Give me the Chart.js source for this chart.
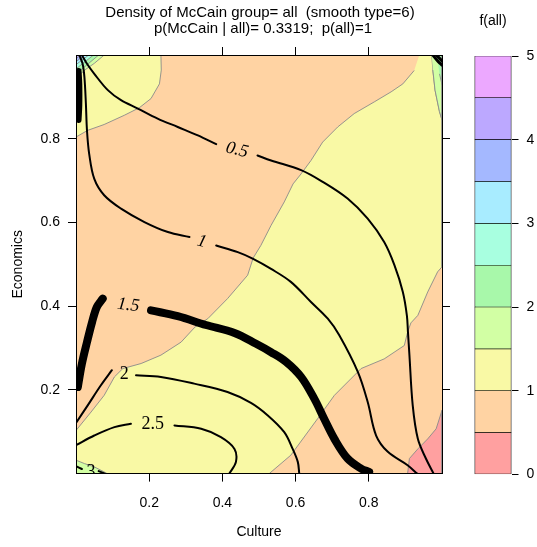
<!DOCTYPE html>
<html><head><meta charset="utf-8">
<script src="https://cdn.jsdelivr.net/npm/chart.js@4.4.1/dist/chart.umd.min.js"></script>
<style>
html,body{margin:0;padding:0;background:#fff;}
#wrap{position:relative;width:537px;height:547px;font-family:"Liberation Sans",Arial,sans-serif;overflow:hidden;}
#main{position:absolute;left:0;top:0;width:537px;height:547px;}
#key{position:absolute;left:470px;top:0;width:67px;height:547px;}
.t{position:absolute;white-space:pre;font-size:15px;line-height:16px;color:#000;transform:translateX(-50%);}
</style></head><body>
<div id="wrap">
<div id="main"><canvas id="c1"></canvas></div>
<div id="key"><canvas id="c2"></canvas></div>
<div class="t" style="left:260px;top:4px">Density of McCain group= all  (smooth type=6)</div>
<div class="t" style="left:263px;top:20px">p(McCain | all)= 0.3319;  p(all)=1</div>
<div class="t" style="left:493px;top:12px;font-size:14px">f(all)</div>
</div>
<script>
// ---------- data ----------
const xTickValues = [0.2, 0.4, 0.6, 0.8];
const yTickValues = [0.2, 0.4, 0.6, 0.8];
const keyTickValues = [0, 1, 2, 3, 4, 5];
const keyLevels = [0, 0.5, 1, 1.5, 2, 2.5, 3, 3.5, 4, 4.5, 5];
const levelColors = ['#FFA0A0','#FFD3A3','#F9F9A5','#D2FFA4','#A8F8AA','#A8FFE0','#A8ECFF','#A4B8FF','#BCA8FF','#ECA8FF'];

// f(all) filled regions (boundary points in data units)
const regionAll = [[0,0],[1,0],[1,1],[0,1]];
const regionYellowTopLeft = [[0,1],[0.232,1],[0.233,0.964],[0.228,0.931],[0.205,0.896],[0.173,0.874],[0.132,0.856],[0.077,0.834],[0.032,0.820],[0,0.804]];
const regionYellowMain = [[0.938,1],[0.972,1],[0.975,0.964],[0.981,0.916],[0.993,0.865],[1,0.845],[1,0.494],[0.988,0.482],[0.961,0.434],[0.934,0.378],[0.915,0.36],[0.906,0.338],[0.897,0.306],[0.842,0.274],[0.779,0.251],[0.706,0.187],[0.660,0.131],[0.587,0.044],[0.528,0],[0,0],[0,0.103],[0.041,0.147],[0.077,0.187],[0.105,0.231],[0.128,0.251],[0.178,0.263],[0.232,0.283],[0.287,0.314],[0.325,0.350],[0.360,0.370],[0.414,0.418],[0.469,0.474],[0.484,0.515],[0.505,0.545],[0.533,0.593],[0.569,0.649],[0.593,0.692],[0.615,0.716],[0.642,0.748],[0.674,0.792],[0.715,0.828],[0.760,0.860],[0.815,0.888],[0.861,0.912],[0.893,0.931],[0.924,0.963]];
const regionGreenTopRight = [[0.972,1],[1,1],[1,0.845],[0.993,0.865],[0.981,0.916],[0.975,0.964]];
const regionGreen2TopRight = [[0.986,1],[1,1],[1,0.93],[0.993,0.955]];
const regionPinkBottomRight = [[0.906,0],[0.911,0.036],[0.934,0.059],[0.961,0.083],[0.984,0.107],[1,0.151],[1,0]];
const regionGreenBottomLeft = [[0,0],[0,0.032],[0.023,0.024],[0.050,0.016],[0.077,0.004],[0.085,0]];
const regionCornerTL1 = [[0,1],[0.077,1],[0.050,0.980],[0.027,0.966],[0.014,0.956],[0,0.948]];
const regionCornerTL2 = [[0,1],[0.062,1],[0.010,0.962],[0,0.957]];
const regionCornerTL3 = [[0,1],[0.048,1],[0.006,0.971],[0,0.968]];
const regionCornerTL4 = [[0,1],[0.035,1],[0,0.977]];
const regionCornerTL5 = [[0,1],[0.024,1],[0,0.984]];
const regionCornerTL6 = [[0,1],[0.013,1],[0,0.991]];

// McCain density contour lines
const line05a = [[0.016,1],[0.030,0.979],[0.050,0.955],[0.087,0.916],[0.123,0.892],[0.169,0.872],[0.223,0.848],[0.278,0.828],[0.333,0.808],[0.383,0.787]];
const line05b = [[0.496,0.760],[0.533,0.748],[0.615,0.725],[0.674,0.697],[0.742,0.657],[0.797,0.609],[0.842,0.553],[0.870,0.498],[0.893,0.434],[0.904,0.378],[0.907,0.338],[0.911,0.283],[0.920,0.163],[0.934,0.083],[0.956,0.036],[0.977,0]];
const line1a = [[0.009,1],[0.018,0.979],[0.023,0.947],[0.027,0.884],[0.030,0.820],[0.036,0.764],[0.050,0.704],[0.077,0.665],[0.123,0.633],[0.187,0.601],[0.251,0.577],[0.310,0.565]];
const line1b = [[0.383,0.545],[0.442,0.529],[0.484,0.513],[0.533,0.489],[0.587,0.458],[0.642,0.410],[0.688,0.370],[0.719,0.331],[0.770,0.243],[0.797,0.171],[0.820,0.091],[0.852,0.052],[0.906,0.020],[0.932,0]];
const line15a = [[0.073,0.418],[0.057,0.398],[0.044,0.362],[0.030,0.314],[0.016,0.262],[0.005,0.207]];
const line15b = [[0.205,0.390],[0.278,0.376],[0.355,0.355],[0.433,0.336],[0.492,0.310],[0.533,0.290],[0.574,0.267],[0.615,0.231],[0.651,0.179],[0.678,0.131],[0.706,0.083],[0.742,0.036],[0.779,0.012],[0.801,0.004]];
const line15c = [[0.007,0.962],[0.009,0.93],[0.009,0.88],[0.007,0.845]];
const line2a = [[0.098,0.247],[0.068,0.211],[0.032,0.163],[0,0.121]];
const line2b = [[0.164,0.235],[0.232,0.231],[0.323,0.215],[0.414,0.195],[0.478,0.169],[0.524,0.139],[0.569,0.099],[0.592,0.059],[0.606,0.028],[0.610,0]];
const line25a = [[0,0.068],[0.050,0.091],[0.105,0.111],[0.150,0.119]];
const line25b = [[0.269,0.115],[0.342,0.107],[0.396,0.087],[0.433,0.059],[0.437,0.028],[0.419,0]];
const line3a = [[0,0.018],[0.016,0.011]];
const line3b = [[0.062,0.006],[0.079,0]];
const lineCornerTR1 = [[0.975,1],[0.990,0.984],[1,0.976]];
const lineCornerTR2 = [[0.984,1],[1,0.986]];

const contourLabelText = ['0.5', '1', '1.5', '2', '2.5', '3'];
const contourLabelX = [0.440, 0.344, 0.143, 0.132, 0.210, 0.041];
const contourLabelY = [0.773, 0.554, 0.402, 0.237, 0.117, 0.004];

// ---------- build ----------
const FAM = '"Liberation Sans", Arial, sans-serif';
const pts = a => a.map(p => ({x: p[0], y: p[1]}));
function region(a, level, order, edge) {
  return {data: pts(a), backgroundColor: levelColors[level], borderColor: '#8a8a8a',
    borderWidth: edge === false ? 0 : 0.9, fill: 'shape', pointRadius: 0, tension: 0, order: order, clip: 0};
}
function cline(a, w) {
  return {data: pts(a), borderColor: '#000', borderWidth: w, fill: false, pointRadius: 0,
    tension: 0.35, order: 1, clip: 0, borderCapStyle: 'round', borderJoinStyle: 'round'};
}
const datasets = [
  cline(line05a, 2), cline(line05b, 2), cline(line1a, 2), cline(line1b, 2),
  cline(line15a, 8), cline(line15b, 8), cline(line15c, 6),
  cline(line2a, 2), cline(line2b, 2), cline(line25a, 2), cline(line25b, 2),
  cline(line3a, 2), cline(line3b, 2), cline(lineCornerTR1, 3), cline(lineCornerTR2, 3),
  region(regionCornerTL6, 8, 20), region(regionCornerTL5, 7, 21), region(regionCornerTL4, 6, 22),
  region(regionCornerTL3, 5, 23), region(regionCornerTL2, 4, 24), region(regionCornerTL1, 3, 25),
  region(regionGreen2TopRight, 4, 26), region(regionGreenTopRight, 3, 27),
  region(regionGreenBottomLeft, 3, 28), region(regionPinkBottomRight, 0, 29),
  region(regionYellowMain, 2, 30), region(regionYellowTopLeft, 2, 31),
  region(regionAll, 1, 40, false)
];

const labelStyle = {
  angle: [14, 15, 6, 0, 0, 0],
  italic: [true, true, true, false, false, false]
};
const contourLabels = {
  id: 'contourLabels',
  afterDatasetsDraw(chart) {
    const {ctx, chartArea: a, scales: {x, y}} = chart;
    ctx.save();
    ctx.beginPath(); ctx.rect(a.left, a.top, a.right - a.left, a.bottom - a.top); ctx.clip();
    ctx.fillStyle = '#000'; ctx.textAlign = 'center'; ctx.textBaseline = 'middle';
    contourLabelText.forEach((t, i) => {
      const px = x.getPixelForValue(contourLabelX[i]), py = y.getPixelForValue(contourLabelY[i]);
      ctx.save();
      ctx.translate(px, py); ctx.rotate(labelStyle.angle[i] * Math.PI / 180);
      ctx.font = (labelStyle.italic[i] ? 'italic ' : '') + '18px "Liberation Serif", "DejaVu Serif", serif';
      ctx.fillText(t, 0, 0);
      ctx.restore();
    });
    ctx.restore();
  }
};

const tickFont = {family: FAM, size: 14};
function setTicks(vals) { return s => { s.ticks = vals.map(v => ({value: v})); }; }
const gridOpt = {drawOnChartArea: false, drawTicks: true, tickLength: 8, color: '#000', lineWidth: 1};
const borderOpt = {display: true, color: '#000', width: 1, z: 1};

new Chart(document.getElementById('c1'), {
  type: 'line',
  data: {datasets},
  options: {
    responsive: true, maintainAspectRatio: false, animation: false, events: [],
    layout: {padding: {top: 47, right: 87, left: 0, bottom: 0}},
    plugins: {legend: {display: false}, tooltip: {enabled: false}},
    scales: {
      x: {type: 'linear', position: 'bottom', min: 0, max: 1, afterBuildTicks: setTicks(xTickValues),
        ticks: {color: '#000', font: tickFont, padding: 13, maxRotation: 0, autoSkip: false, callback: v => String(v)},
        grid: gridOpt, border: borderOpt,
        title: {display: true, text: 'Culture', color: '#000', font: {family: FAM, size: 14}, padding: {top: 0, bottom: 6}},
        afterFit: s => { s.height = 73.4; }},
      x2: {type: 'linear', position: 'top', min: 0, max: 1, afterBuildTicks: setTicks(xTickValues),
        ticks: {display: false}, grid: gridOpt, border: borderOpt, afterFit: s => { s.height = 8; }},
      y: {type: 'linear', position: 'left', min: 0, max: 1, afterBuildTicks: setTicks(yTickValues),
        ticks: {color: '#000', font: tickFont, padding: 8, autoSkip: false, callback: v => String(v)},
        grid: gridOpt, border: borderOpt,
        title: {display: true, text: 'Economics', color: '#000', font: {family: FAM, size: 14}, padding: {top: 10, bottom: 0}},
        afterFit: s => { s.width = 76; }},
      y2: {type: 'linear', position: 'right', min: 0, max: 1, afterBuildTicks: setTicks(yTickValues),
        ticks: {display: false}, grid: gridOpt, border: borderOpt, afterFit: s => { s.width = 8; }}
    }
  },
  plugins: [contourLabels]
});

// colour key
const keyDatasets = levelColors.map((c, i) => ({
  data: [[keyLevels[i], keyLevels[i + 1]]], backgroundColor: c, borderColor: '#000',
  borderWidth: {top: 0.6, bottom: 0.6, left: 1, right: 1}, borderSkipped: false,
  barPercentage: 1, categoryPercentage: 1
}));
new Chart(document.getElementById('c2'), {
  type: 'bar',
  data: {labels: [''], datasets: keyDatasets},
  options: {
    responsive: true, maintainAspectRatio: false, animation: false, events: [],
    layout: {padding: {left: 4.5, top: 56, bottom: 72.5, right: 0}},
    plugins: {legend: {display: false}, tooltip: {enabled: false}},
    scales: {
      x: {display: false, stacked: true},
      y: {position: 'right', min: 0, max: 5, afterBuildTicks: setTicks(keyTickValues),
        ticks: {color: '#000', font: tickFont, padding: 8},
        grid: {drawOnChartArea: false, drawTicks: true, tickLength: 7, color: '#000'},
        border: {display: false},
        afterFit: s => { s.width = 25.5; }}
    }
  }
});
</script>
</body></html>
